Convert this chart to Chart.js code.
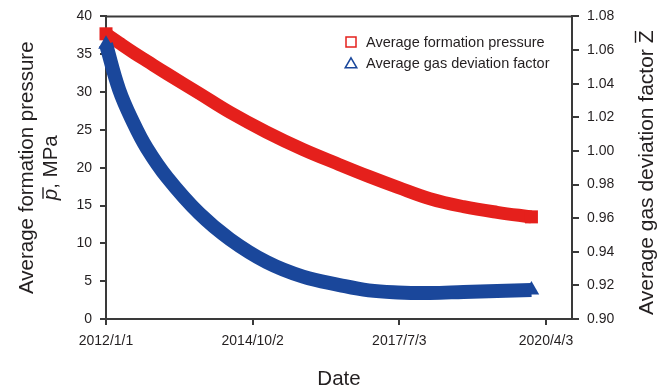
<!DOCTYPE html>
<html>
<head>
<meta charset="utf-8">
<script src="https://cdn.jsdelivr.net/npm/chart.js@4.4.1/dist/chart.umd.min.js"></script>
<style>
  html, body { margin: 0; padding: 0; background: #ffffff; }
  #wrap { width: 661px; height: 388px; }
</style>
</head>
<body>
<div id="wrap"><canvas id="chart" width="661" height="388"></canvas></div>
<script>
// Date axis: days counted from 2012/1/1, labelled every 1005 days
const dateTickDays = [0, 1005, 2010, 3015];
const dateTickLabels = ['2012/1/1', '2014/10/2', '2017/7/3', '2020/4/3'];

// Sample dates (days since 2012/1/1)
const days = [0, 90, 190, 280, 420, 640, 850, 1100, 1350, 1600, 1800, 2000, 2220, 2450, 2680, 2915];

// Average formation pressure, MPa
const avgPressure = [37.7, 36.5, 35.2, 34.1, 32.4, 29.8, 27.3, 24.7, 22.4, 20.4, 18.85, 17.4, 15.9, 14.85, 14.1, 13.5];

// Average gas deviation factor Z
const avgZFactor = [1.0634, 1.0364, 1.0163, 1.0016, 0.9841, 0.9627, 0.9474, 0.9339, 0.9252, 0.9202, 0.9170, 0.9158, 0.9155, 0.9161, 0.9167, 0.9173];

const seriesNames = ['Average formation pressure', 'Average gas deviation factor'];

const RED = '#e5201c';
const BLUE = '#1a479b';
const AXIS = '#3a3a3a';
const TEXT = '#231f20';
const FONT = "'Liberation Sans', Arial, Helvetica, sans-serif";

const endOnly = (r) => (c) => (c.dataIndex === 0 || c.dataIndex === days.length - 1) ? r : 0;

// Axis titles, frame top edge and the legend box
const decorations = {
  id: 'decorations',
  afterDraw(chart) {
    const ctx = chart.ctx;
    const a = chart.chartArea;
    ctx.save();

    ctx.strokeStyle = AXIS;
    ctx.lineWidth = 2;
    ctx.beginPath();
    ctx.moveTo(a.left - 1, a.top);
    ctx.lineTo(a.right + 1, a.top);
    ctx.stroke();

    ctx.fillStyle = TEXT;
    const midY = (a.top + a.bottom) / 2;

    // left title, line 1
    ctx.save();
    ctx.translate(33, midY);
    ctx.rotate(-Math.PI / 2);
    ctx.font = '20.5px ' + FONT;
    ctx.textAlign = 'center';
    ctx.textBaseline = 'alphabetic';
    ctx.fillText('Average formation pressure', 0, 0);
    ctx.restore();

    // left title, line 2: p̄, MPa
    ctx.save();
    ctx.translate(57, midY);
    ctx.rotate(-Math.PI / 2);
    ctx.textBaseline = 'alphabetic';
    ctx.textAlign = 'left';
    ctx.font = 'italic 20.5px ' + FONT;
    const wp = ctx.measureText('p').width;
    ctx.font = '20.5px ' + FONT;
    const rest = ', MPa';
    const wr = ctx.measureText(rest).width;
    const x0 = -(wp + wr) / 2;
    ctx.font = 'italic 20.5px ' + FONT;
    ctx.fillText('p', x0, 0);
    ctx.font = '20.5px ' + FONT;
    ctx.fillText(rest, x0 + wp, 0);
    ctx.strokeStyle = TEXT;
    ctx.lineWidth = 1.4;
    ctx.beginPath();
    ctx.moveTo(x0 + 1.5, -14);
    ctx.lineTo(x0 + wp + 1.5, -14);
    ctx.stroke();
    ctx.restore();

    // right title: Average gas deviation factor Z̄
    ctx.save();
    ctx.translate(653, midY + 5);
    ctx.rotate(-Math.PI / 2);
    ctx.font = '21px ' + FONT;
    ctx.textBaseline = 'alphabetic';
    ctx.textAlign = 'left';
    const main = 'Average gas deviation factor ';
    const wm = ctx.measureText(main).width;
    const wz = ctx.measureText('Z').width;
    const s0 = -(wm + wz) / 2;
    ctx.fillText(main, s0, 0);
    ctx.fillText('Z', s0 + wm, 0);
    ctx.strokeStyle = TEXT;
    ctx.lineWidth = 1.4;
    ctx.beginPath();
    ctx.moveTo(s0 + wm + 0.5, -17.5);
    ctx.lineTo(s0 + wm + wz - 0.5, -17.5);
    ctx.stroke();
    ctx.restore();

    // bottom title
    ctx.font = '20.5px ' + FONT;
    ctx.textAlign = 'center';
    ctx.textBaseline = 'alphabetic';
    ctx.fillText('Date', (a.left + a.right) / 2, 385);

    // legend
    ctx.lineWidth = 1.5;
    ctx.strokeStyle = RED;
    ctx.strokeRect(346, 37, 10, 10);
    ctx.strokeStyle = BLUE;
    ctx.beginPath();
    ctx.moveTo(351, 57.8);
    ctx.lineTo(356.8, 67.8);
    ctx.lineTo(345.2, 67.8);
    ctx.closePath();
    ctx.stroke();
    ctx.font = '14.5px ' + FONT;
    ctx.textAlign = 'left';
    ctx.textBaseline = 'middle';
    ctx.fillStyle = TEXT;
    ctx.fillText(seriesNames[0], 366, 42.5);
    ctx.fillText(seriesNames[1], 366, 63.5);

    ctx.restore();
  }
};

new Chart(document.getElementById('chart'), {
  type: 'line',
  data: {
    datasets: [
      {
        label: seriesNames[0],
        data: days.map((d, i) => ({ x: d, y: avgPressure[i] })),
        yAxisID: 'y',
        borderColor: RED,
        backgroundColor: RED,
        borderWidth: 13,
        borderCapStyle: 'butt',
        borderJoinStyle: 'round',
        tension: 0.4,
        pointStyle: 'rect',
        pointRadius: endOnly(9.2),
        pointHoverRadius: endOnly(9.2),
        pointBorderWidth: 0,
        pointBackgroundColor: RED,
        clip: false,
        order: 2
      },
      {
        label: seriesNames[1],
        data: days.map((d, i) => ({ x: d, y: avgZFactor[i] })),
        yAxisID: 'y1',
        borderColor: BLUE,
        backgroundColor: BLUE,
        borderWidth: 14,
        borderCapStyle: 'butt',
        borderJoinStyle: 'round',
        tension: 0.4,
        pointStyle: 'triangle',
        pointRadius: endOnly(9),
        pointHoverRadius: endOnly(9),
        pointBorderWidth: 0,
        pointBackgroundColor: BLUE,
        clip: false,
        order: 1
      }
    ]
  },
  options: {
    responsive: false,
    animation: false,
    events: [],
    layout: { padding: { top: 16, left: 0, right: 0, bottom: 0 } },
    plugins: {
      legend: { display: false },
      tooltip: { enabled: false }
    },
    scales: {
      x: {
        type: 'linear',
        min: 0,
        max: 3193,
        afterBuildTicks: (s) => { s.ticks = dateTickDays.map(v => ({ value: v })); },
        afterFit: (s) => { s.height = 69; },
        ticks: {
          callback: (v) => dateTickLabels[dateTickDays.indexOf(v)],
          autoSkip: false,
          maxRotation: 0,
          padding: 8,
          color: TEXT,
          font: { family: FONT, size: 14 }
        },
        grid: { drawOnChartArea: false, drawTicks: true, tickLength: 6, color: AXIS, lineWidth: 2 },
        border: { display: true, color: AXIS, width: 2 }
      },
      y: {
        position: 'left',
        min: 0,
        max: 40,
        afterFit: (s) => { s.width = 106; },
        ticks: {
          stepSize: 5,
          padding: 8,
          color: TEXT,
          font: { family: FONT, size: 14 }
        },
        grid: { drawOnChartArea: false, drawTicks: true, tickLength: 6, color: AXIS, lineWidth: 2 },
        border: { display: true, color: AXIS, width: 2 }
      },
      y1: {
        position: 'right',
        min: 0.9,
        max: 1.08,
        afterFit: (s) => { s.width = 89; },
        ticks: {
          stepSize: 0.02,
          callback: (v) => Number(v).toFixed(2),
          padding: 8,
          color: TEXT,
          font: { family: FONT, size: 14 }
        },
        grid: { drawOnChartArea: false, drawTicks: true, tickLength: 7, color: AXIS, lineWidth: 2 },
        border: { display: true, color: AXIS, width: 2 }
      }
    }
  },
  plugins: [decorations]
});
</script>
</body>
</html>
